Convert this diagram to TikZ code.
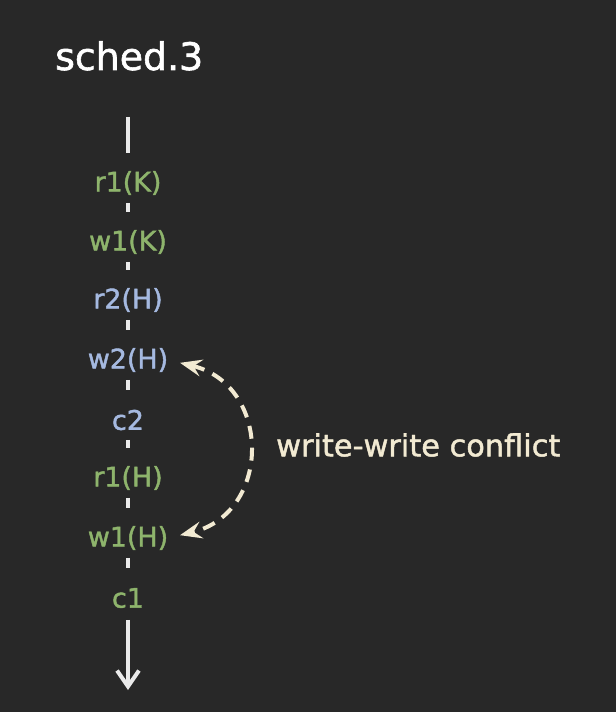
\documentclass[tikz,border=0pt]{standalone}
\usepackage{fontspec}
\setmainfont{DejaVu Sans}
\newfontfamily\semib[FakeBold=1.5]{DejaVu Sans}
\usetikzlibrary{arrows.meta}
\definecolor{bg}{HTML}{282828}
\definecolor{tgreen}{HTML}{8EB46C}
\definecolor{tblue}{HTML}{A5B9E0}
\definecolor{cream}{HTML}{F2EAD2}
\definecolor{axis}{HTML}{EAEAEA}
\tikzset{
  op/.style={font=\semib\fontsize{27}{30}\selectfont, inner sep=0pt, anchor=center},
  gop/.style={op, text=tgreen},
  bop/.style={op, text=tblue},
  tick/.style={draw=axis, line width=4.5pt, shorten <=20pt, shorten >=30pt},
  conflict/.style={draw=cream, line width=4pt, dash pattern=on 13pt off 9pt,
    {Stealth[length=22pt,width=17pt,inset=8pt]}-{Stealth[length=22pt,width=17pt,inset=8pt]}}
}
\begin{document}
\begin{tikzpicture}[x=1bp,y=-1bp]
\useasboundingbox (0,0) rectangle (616,712);
\fill[bg] (-10,-10) rectangle (626,722);
\node[font=\semib\fontsize{38}{40}\selectfont, text=white, anchor=base west, inner sep=0pt] (title) at (55,70) {sched.3};
\coordinate (top) at (128,117);
\coordinate (bot) at (128,690);
\node[gop] (r1K) at (128,183) {r1(K)};
\node[gop] (w1K) at (128,242) {w1(K)};
\node[bop] (r2H) at (128,300) {r2(H)};
\node[bop] (w2H) at (128,360) {w2(H)};
\node[bop] (c2)  at (128,420) {c2};
\node[gop] (r1H) at (128,478) {r1(H)};
\node[gop] (w1H) at (128,538) {w1(H)};
\node[gop] (c1)  at (128,598) {c1};
\draw[draw=axis, line width=4.5pt, shorten >=30pt] (top) -- (r1K.center);
\foreach \a/\b in {r1K/w1K, w1K/r2H, r2H/w2H, w2H/c2, c2/r1H, r1H/w1H, w1H/c1}
  \draw[tick] (\a.center) -- (\b.center);
\draw[draw=axis, line width=4pt, shorten <=22pt, -{Straight Barb[length=16pt,width=22pt,line width=4pt]}] (c1.center) -- (bot);
\draw[conflict, shorten <=12pt, shorten >=12pt] (w2H.east) .. controls (272,385) and (272,513) .. (w1H.east);
\node[font=\semib\fontsize{30.5}{34}\selectfont, text=cream, anchor=west, inner sep=0pt] (lbl) at (276,445) {write-write conflict};
\end{tikzpicture}
\end{document}
